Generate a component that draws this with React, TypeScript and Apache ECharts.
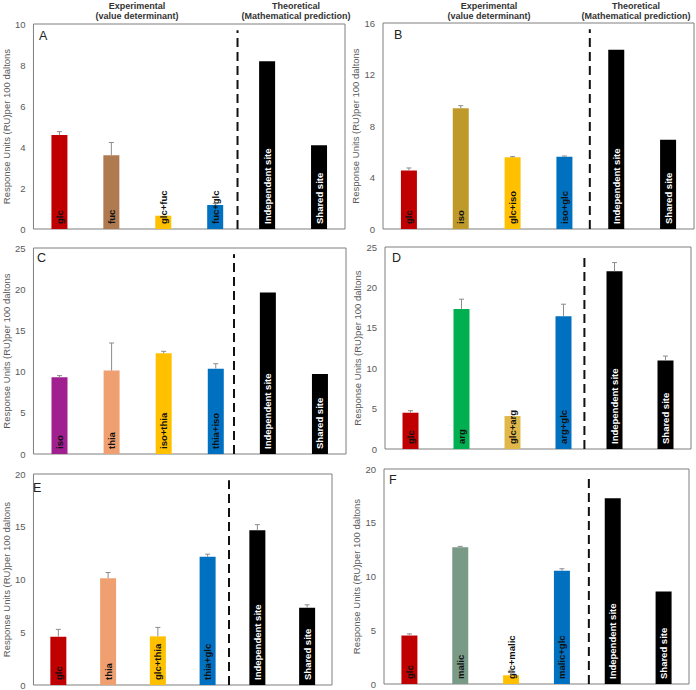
import React, { useEffect, useRef } from "react";
import * as echarts from "echarts";

// ---- data ----
const panelLetters = ["A", "B", "C", "D", "E", "F"];

const catsA = ["glc", "fuc", "glc+fuc", "fuc+glc", "Independent site", "Shared site"];
const valsA = [4.58, 3.6, 0.65, 1.17, 8.18, 4.08];
const errsA = [0.17, 0.62, 0, 0.08, 0, 0];
const colorsA = ["#C00000", "#B07A50", "#FFC000", "#0070C0", "#000000", "#000000"];

const catsB = ["glc", "iso", "glc+iso", "iso+glc", "Independent site", "Shared site"];
const valsB = [4.54, 9.37, 5.57, 5.62, 13.93, 6.94];
const errsB = [0.2, 0.21, 0.05, 0.05, 0, 0];
const colorsB = ["#C00000", "#BF9A2A", "#FFC000", "#0070C0", "#000000", "#000000"];

const catsC = ["iso", "thia", "iso+thia", "thia+iso", "Independent site", "Shared site"];
const valsC = [9.31, 10.12, 12.22, 10.36, 19.59, 9.71];
const errsC = [0.2, 3.35, 0.24, 0.6, 0, 0];
const colorsC = ["#A0208F", "#F0A070", "#FFC000", "#0070C0", "#000000", "#000000"];

const catsD = ["glc", "arg", "glc+arg", "arg+glc", "Independent site", "Shared site"];
const valsD = [4.49, 17.34, 4.08, 16.44, 22.0, 10.96];
const errsD = [0.25, 1.2, 0, 1.48, 1.07, 0.54];
const colorsD = ["#C00000", "#00B050", "#E0B84A", "#0070C0", "#000000", "#000000"];

const catsE = ["glc", "thia", "glc+thia", "thia+glc", "Independent site", "Shared site"];
const valsE = [4.58, 10.12, 4.61, 12.15, 14.67, 7.32];
const errsE = [0.69, 0.54, 0.85, 0.25, 0.53, 0.28];
const colorsE = ["#C00000", "#F0A070", "#FFC000", "#0070C0", "#000000", "#000000"];

const catsF = ["glc", "malic", "glc+malic", "malic+glc", "Independent site", "Shared site"];
const valsF = [4.51, 12.71, 0.81, 10.53, 17.28, 8.61];
const errsF = [0.15, 0.09, 0.47, 0.19, 0, 0];
const colorsF = ["#C00000", "#7A9A88", "#FFC000", "#0070C0", "#000000", "#000000"];

const yMaxes = [10, 16, 25, 25, 20, 20];
const yIntervals = [2, 4, 5, 5, 5, 5];
const dividerPositions = [3.43, 3.49, 3.35, 3.41, 3.43, 3.53];

const yAxisTitle = "Response Units (RU)per 100 daltons";
const headerExperimental = ["Experimental", "(value determinant)"];
const headerTheoretical = ["Theoretical", "(Mathematical prediction)"];

// ---- layout ----
const grids = [
  { left: 32, top: 24, width: 313, height: 205 },
  { left: 383, top: 23, width: 311, height: 206 },
  { left: 30, top: 248, width: 316, height: 206 },
  { left: 385, top: 247, width: 306, height: 202 },
  { left: 32, top: 474, width: 300, height: 212 },
  { left: 384, top: 469, width: 305, height: 215 },
];
const nameGaps = [21, 15, 19, 17, 21, 16];
const letterPos = [
  [44, 36], [399, 35], [42, 258], [397, 258], [38, 488], [394, 480],
];

const panels = [
  { cats: catsA, vals: valsA, errs: errsA, colors: colorsA },
  { cats: catsB, vals: valsB, errs: errsB, colors: colorsB },
  { cats: catsC, vals: valsC, errs: errsC, colors: colorsC },
  { cats: catsD, vals: valsD, errs: errsD, colors: colorsD },
  { cats: catsE, vals: valsE, errs: errsE, colors: colorsE },
  { cats: catsF, vals: valsF, errs: errsF, colors: colorsF },
];

const FONT = "Liberation Sans";

function buildOption() {
  const grid: any[] = [];
  const xAxis: any[] = [];
  const yAxis: any[] = [];
  const series: any[] = [];
  const graphic: any[] = [];

  panels.forEach((p, i) => {
    grid.push({
      ...grids[i],
      show: true,
      borderColor: "#7f7f7f",
      borderWidth: 1,
      backgroundColor: "transparent",
    });
    xAxis.push({
      type: "category",
      gridIndex: i,
      data: p.cats,
      axisLabel: { show: false },
      axisTick: { show: false },
      axisLine: { show: false },
    });
    yAxis.push({
      type: "value",
      gridIndex: i,
      min: 0,
      max: yMaxes[i],
      interval: yIntervals[i],
      axisLine: { show: false },
      axisTick: { show: false },
      splitLine: { show: false },
      axisLabel: { color: "#595959", fontSize: 9.5, fontFamily: FONT, margin: 8 },
      name: yAxisTitle,
      nameLocation: "middle",
      nameGap: nameGaps[i],
      nameTextStyle: { color: "#595959", fontSize: 9.5, fontFamily: FONT },
    });

    series.push({
      type: "bar",
      xAxisIndex: i,
      yAxisIndex: i,
      barWidth: 16,
      data: p.vals.map((v, k) => ({
        value: v,
        itemStyle: { color: p.colors[k] },
        label: { color: p.colors[k] === "#000000" ? "#ffffff" : "#111111" },
      })),
      label: {
        show: true,
        position: "insideBottom",
        rotate: 90,
        align: "left",
        verticalAlign: "middle",
        distance: 5,
        fontSize: 9.5,
        fontWeight: "bold",
        fontFamily: FONT,
        formatter: (prm: any) => prm.name,
      },
      silent: true,
    });

    series.push({
      type: "custom",
      xAxisIndex: i,
      yAxisIndex: i,
      encode: { x: 0, y: 1 },
      data: p.vals
        .map((v, k) => [k, v, p.errs[k]])
        .filter((d) => d[2] > 0),
      renderItem: (params: any, api: any) => {
        const x = api.value(0);
        const v = api.value(1);
        const e = api.value(2);
        const p0 = api.coord([x, v]);
        const p1 = api.coord([x, v + e]);
        return {
          type: "group",
          children: [
            {
              type: "line",
              shape: { x1: p0[0], y1: p0[1], x2: p1[0], y2: p1[1] },
              style: { stroke: "#8c8c8c", lineWidth: 1 },
            },
            {
              type: "line",
              shape: { x1: p1[0] - 2.5, y1: p1[1], x2: p1[0] + 2.5, y2: p1[1] },
              style: { stroke: "#8c8c8c", lineWidth: 1 },
            },
          ],
        };
      },
      z: 3,
      silent: true,
    });

    graphic.push({
      type: "text",
      left: letterPos[i][0] - 5,
      top: letterPos[i][1] - 7,
      style: { text: panelLetters[i], fontSize: 12.5, fill: "#222", fontFamily: FONT },
    });
  });

  // hidden value x-axes for the dashed dividers
  panels.forEach((p, i) => {
    xAxis.push({ type: "value", gridIndex: i, min: -0.5, max: 5.5, show: false });
    series.push({
      type: "line",
      xAxisIndex: 6 + i,
      yAxisIndex: i,
      data: [
        [dividerPositions[i], 0],
        [dividerPositions[i], yMaxes[i] * 0.97],
      ],
      symbol: "none",
      lineStyle: { color: "#111", width: 2, type: [9, 5] },
      silent: true,
      z: 4,
    });
  });

  // headers above the top panels
  const headerCenters = [
    [137, 296],
    [489, 636],
  ];
  headerCenters.forEach(([ex, th]) => {
    [headerExperimental, headerTheoretical].forEach((lines, j) => {
      const cx = j === 0 ? ex : th;
      lines.forEach((t, li) => {
        graphic.push({
          type: "text",
          x: cx,
          y: li === 0 ? 5.5 : 16,
          style: {
            text: t,
            fontSize: 9,
            fontWeight: "bold",
            fill: "#333",
            fontFamily: FONT,
            align: "center",
            verticalAlign: "middle",
          },
        });
      });
    });
  });

  return {
    animation: false,
    backgroundColor: "#ffffff",
    grid,
    xAxis,
    yAxis,
    series,
    graphic,
  };
}

export default function App() {
  const ref = useRef<HTMLDivElement>(null);
  useEffect(() => {
    if (!ref.current) return;
    const chart = echarts.init(ref.current, undefined, { renderer: "svg" });
    chart.setOption(buildOption() as any);
    return () => chart.dispose();
  }, []);
  return (
    <div
      ref={ref}
      style={{ position: "absolute", left: 0, top: 0, width: 696, height: 690 }}
    />
  );
}
